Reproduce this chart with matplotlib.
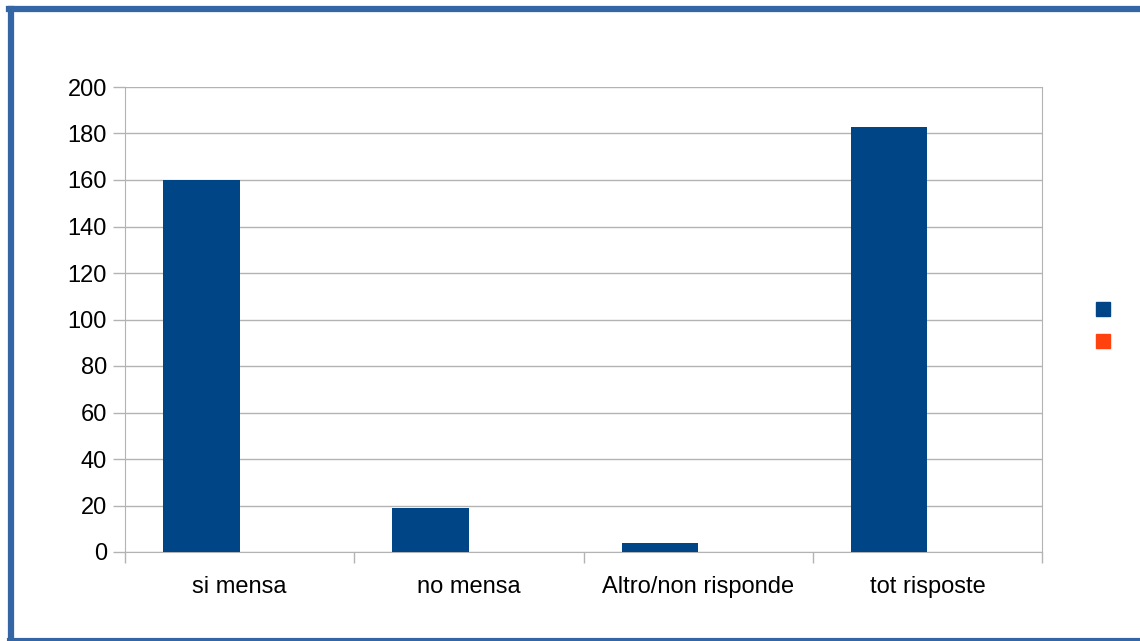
import matplotlib
matplotlib.use("Agg")
import matplotlib.pyplot as plt
import numpy as np
from matplotlib.lines import Line2D

categorie = ["si mensa", "no mensa", "Altro/non risponde", "tot risposte"]
serie_1 = [160, 19, 4, 183]
serie_2 = [0, 0, 0, 0]
tick_y = [0, 20, 40, 60, 80, 100, 120, 140, 160, 180, 200]

plt.rcParams["font.family"] = ["Liberation Sans", "DejaVu Sans"]

fig = plt.figure(figsize=(11.4, 6.41), dpi=100)
ax = fig.add_axes([125 / 1140, 89 / 641, 917 / 1140, 465 / 641])

x = np.arange(len(categorie))
larghezza = 1 / 3
ax.bar(x - larghezza / 2, serie_1, width=larghezza, color="#004586", zorder=3)
ax.bar(x + larghezza / 2, serie_2, width=larghezza, color="#ff420e", zorder=3)

ax.set_xlim(-0.5, len(categorie) - 0.5)
ax.set_ylim(0, 200)
ax.set_yticks(tick_y)
ax.yaxis.grid(True, color="#b3b3b3", linewidth=1, zorder=0)

# tick delle categorie ai bordi dei gruppi, etichette al centro
ax.set_xticks(np.arange(len(categorie) + 1) - 0.5)
ax.set_xticklabels([])
ax.set_xticks(x, minor=True)
ax.set_xticklabels(categorie, minor=True)
ax.tick_params(axis="x", which="major", length=8, color="#b3b3b3", width=1)
ax.tick_params(axis="x", which="minor", length=0, pad=17, labelsize=17)
ax.tick_params(axis="y", length=8.5, color="#b3b3b3", width=1, pad=4.5, labelsize=17)

for lato in ["left", "bottom", "right"]:
    ax.spines[lato].set_color("#b3b3b3")
ax.spines["top"].set_visible(False)

# legenda senza etichette
maniglie = [
    Line2D([], [], marker="s", linestyle="", markersize=10, markerfacecolor="#004586", markeredgecolor="#004586"),
    Line2D([], [], marker="s", linestyle="", markersize=10, markerfacecolor="#ff420e", markeredgecolor="#ff420e"),
]
fig.legend(maniglie, ["", ""], loc="center", bbox_to_anchor=(1103 / 1140, 1 - 326 / 641),
           frameon=False, handlelength=0.8, labelspacing=1.3, handletextpad=0)

# cornice blu
blu = "#3465a4"
fig.add_artist(Line2D([11 / 1140, 11 / 1140], [2 / 641, 632 / 641], transform=fig.transFigure, color=blu, linewidth=4.5))
fig.add_artist(Line2D([9 / 1140, 1.0], [632 / 641, 632 / 641], transform=fig.transFigure, color=blu, linewidth=4.5))
fig.add_artist(Line2D([9 / 1140, 1.0], [1.5 / 641, 1.5 / 641], transform=fig.transFigure, color=blu, linewidth=3))

fig.savefig("out.png", dpi=100)
